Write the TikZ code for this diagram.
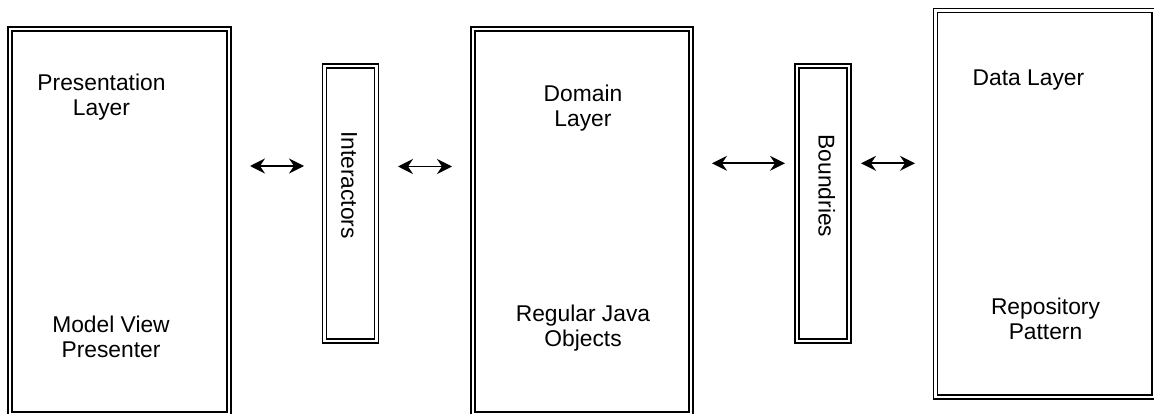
\documentclass[tikz,border=0pt]{standalone}
\usepackage{fontspec}
\setmainfont{Liberation Sans}
\usetikzlibrary{arrows.meta}

\begin{document}
\begin{tikzpicture}[x=1pt, y=-1pt,
        layer/.style={draw, double, line width=1.2pt, double distance=2.7pt, inner sep=0pt},
        lbl/.style={align=center, font=\fontsize{22.8}{25}\selectfont},
        link/.style={line width=1.6pt, >={Stealth[length=15pt,width=15pt,inset=5pt]}, <->}]
        \clip (0,0) rectangle (1154,414);
        % the three layers and the two thin boundaries between them
        \node[layer, minimum width=219pt, minimum height=385pt] (pres) at (119.5,221.5) {};
        \node[layer, minimum width=52pt, minimum height=275pt] (inter) at (350.8,203.5) {};
        \node[layer, minimum width=218pt, minimum height=385pt] (dom) at (582,221.5) {};
        \node[layer, minimum width=52pt, minimum height=275pt] (bound) at (823,203.5) {};
        \node[layer, minimum width=218.5pt, minimum height=386.5pt] (data) at (1044.75,203.75) {};
        % texts
        \node[lbl] (presT) at (101.5,97) {Presentation\\Layer};
        \node[lbl] (mvp) at (111,337) {Model View\\Presenter};
        \node[lbl] (domT) at (583,108) {Domain\\Layer};
        \node[lbl] (pojo) at (583,328.5) {Regular Java\\Objects};
        \node[lbl] (dataT) at (1028.5,80.5) {Data Layer};
        \node[lbl] (repo) at (1045.5,319) {Repository\\Pattern};
        \node[lbl, rotate=-90] (interT) at (349,185) {Interactors};
        \node[lbl, rotate=-90] (boundT) at (826.7,186) {Boundries};
        % arrow ends
        \coordinate (a1) at (250,166);   \coordinate (b1) at (304,166);
        \coordinate (a2) at (398,166.5); \coordinate (b2) at (452,166.5);
        \coordinate (a3) at (712,163.3); \coordinate (b3) at (785,163.3);
        \coordinate (a4) at (861,163.3); \coordinate (b4) at (915,163.3);
        \draw[link] (a1) -- (b1);
        \draw[link] (a2) -- (b2);
        \draw[link] (a3) -- (b3);
        \draw[link] (a4) -- (b4);
\end{tikzpicture}
\end{document}
